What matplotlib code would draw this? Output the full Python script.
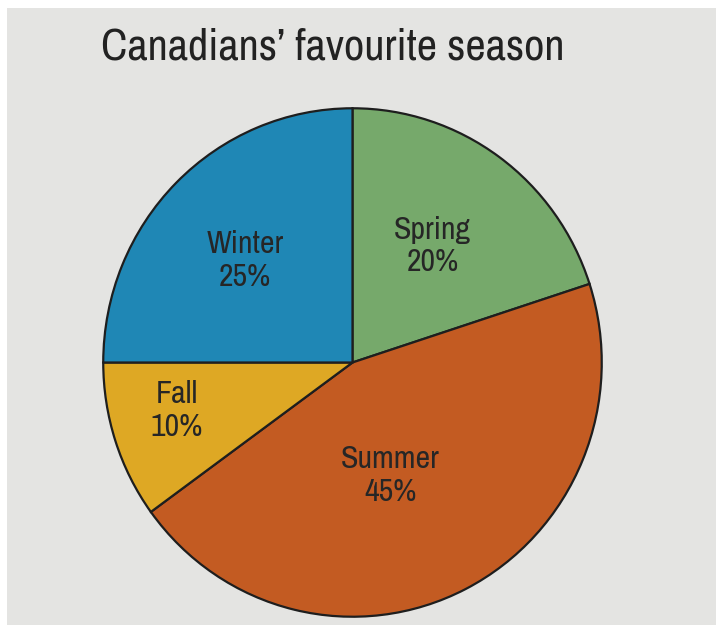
import numpy as np
import matplotlib
matplotlib.use("Agg")
import matplotlib.pyplot as plt
from matplotlib.patches import Rectangle
from matplotlib import font_manager

names = sorted({f.name for f in font_manager.fontManager.ttflist})
narrow = [n for n in names if "Narrow" in n or "Condensed" in n]
plt.rcParams['font.family'] = narrow[:1] + ['DejaVu Sans']
plt.rcParams['font.stretch'] = 'condensed'

# data
seasons = ["Spring", "Summer", "Fall", "Winter"]
shares = [20, 45, 10, 25]
colors = ["#76a96b", "#c35b22", "#dea824", "#1f87b5"]

# label placement (radius as fraction, angle nudge in degrees)
label_r = [0.56, 0.47, 0.73, 0.59]
label_shift = [1, -8, -3, 2]

fig = plt.figure(figsize=(7.16, 6.27), dpi=100)
fig.patch.set_facecolor("white")
# paper background of the photo
fig.patches.append(Rectangle((7 / 716, 2 / 627), 709 / 716, 617 / 627,
                             transform=fig.transFigure, facecolor="#e4e4e2",
                             edgecolor="none", zorder=-10))

ax = fig.add_axes([102 / 716, 9 / 627, 501 / 716, 511 / 627])
ax.set_facecolor("none")
wedges, _ = ax.pie(shares, colors=colors, startangle=90, counterclock=False,
                   wedgeprops=dict(edgecolor="#1e1e1e", linewidth=1.6),
                   radius=1.0)
ax.set_xlim(-1.005, 1.005)
ax.set_ylim(-1.005, 1.005)
ax.set_aspect("auto")
ax.axis("off")

for w, name, val, r, s in zip(wedges, seasons, shares, label_r, label_shift):
    mid = np.deg2rad((w.theta1 + w.theta2) / 2 + s)
    ax.text(r * np.cos(mid), r * np.sin(mid), f"{name}\n{val}%",
            ha="center", va="center", fontsize=23, color="#262626",
            linespacing=1.2)

fig.text(333 / 716, 1 - 60 / 627, "Canadians\u2019 favourite season",
         ha="center", va="baseline", fontsize=32, color="#222222")

fig.savefig("out.png", dpi=100, facecolor=fig.get_facecolor())
